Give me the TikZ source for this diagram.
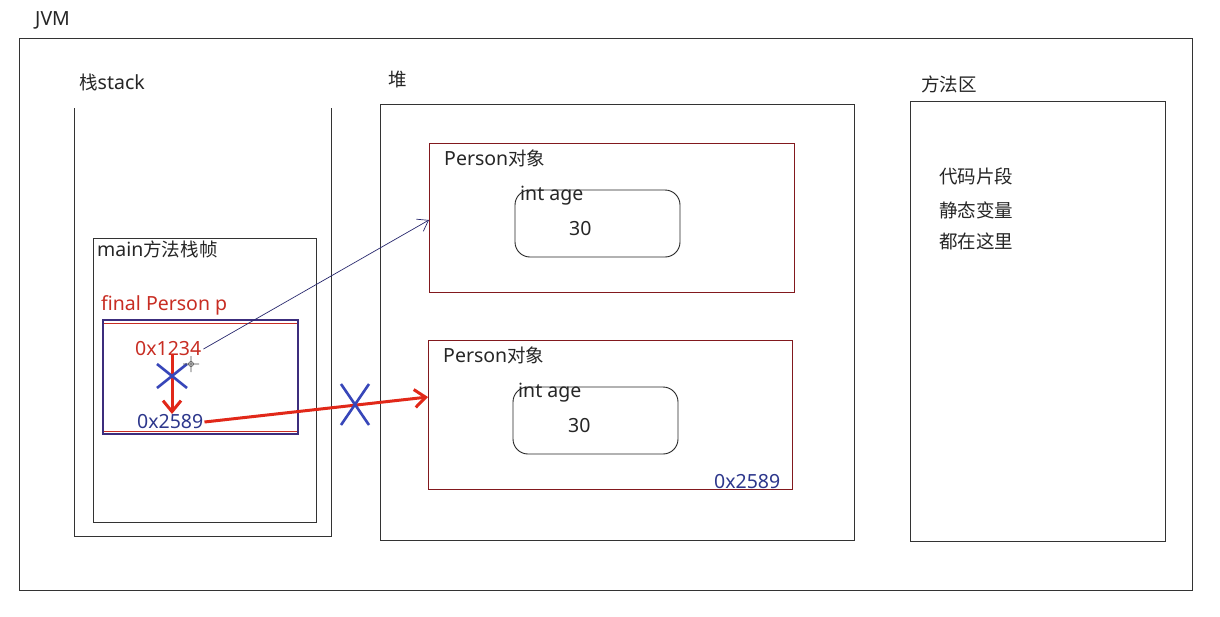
\documentclass[tikz,border=0pt]{standalone}
\usepackage{fontspec}
\setmainfont{Noto Sans}
\newfontfamily\cjk[Scale=0.95]{Noto Sans CJK SC}
\usetikzlibrary{arrows.meta}
\definecolor{txtred}{RGB}{200,45,35}
\definecolor{txtblue}{RGB}{45,55,140}
\definecolor{boxred}{RGB}{130,25,30}
\definecolor{arrred}{RGB}{225,40,25}
\definecolor{xblue}{RGB}{55,70,185}
\definecolor{pbox}{RGB}{60,45,125}
\definecolor{navy}{RGB}{40,40,110}
\begin{document}
\begin{tikzpicture}[x=1pt,y=-1pt,
  lbl/.style={anchor=west,inner sep=0pt,font=\fontsize{19.5}{21}\selectfont,text=black!85},
  frame/.style={draw=black!80,line width=0.9pt},
  objbox/.style={draw=boxred,line width=1.3pt},
  valbox/.style={draw=black!85,line width=0.9pt,rounded corners=15pt},
  redarrow/.style={draw=arrred,line width=3pt,-{Straight Barb[length=11pt,width=18pt,line width=3pt]}},
  xmark/.style={draw=xblue,line width=2.6pt}]
\useasboundingbox (0,0) rectangle (1220,616);
\fill[white] (0,0) rectangle (1220,616);
% boxes
\draw[frame] (19,38) rectangle (1192,590);
\draw[frame] (74,108) -- (74,536) -- (331,536) -- (331,108);
\draw[frame] (93,238) rectangle (316,522);
\draw[frame] (380,104) rectangle (854,540);
\draw[frame] (910,101) rectangle (1165,541);
\draw[draw=pbox,line width=1.2pt] (103,320) rectangle (298,434);
\draw[draw=txtred,line width=0.8pt] (104,323) -- (297,323) (104,431) -- (297,431);
\node[objbox,minimum width=365pt,minimum height=149pt,anchor=north west,inner sep=0pt] (obj1) at (429,143) {};
\node[objbox,minimum width=364pt,minimum height=149pt,anchor=north west,inner sep=0pt] (obj2) at (428,340) {};
\draw[valbox] (515,190) rectangle (680,257);
\draw[valbox] (513,387) rectangle (678,454);
% labels
\node[lbl] (jvm) at (35,20) {JVM};
\node[lbl] (stk) at (79,82) {{\cjk 栈}stack};
\node[lbl] (heap) at (388,80) {\cjk 堆};
\node[lbl] (meth) at (921,84) {\cjk 方法区};
\node[lbl] (mainf) at (97,249) {main{\cjk 方法栈帧}};
\node[lbl,text=txtred] (fp) at (101,305) {final Person p};
\node[lbl,text=txtred] (a1) at (135,349) {0x1234};
\node[lbl,text=txtblue] (a2) at (137,422) {0x2589};
\node[lbl] (po1) at (444,158) {Person{\cjk 对象}};
\node[lbl] (po2) at (443,355) {Person{\cjk 对象}};
\node[lbl] (ia1) at (520,196) {int age};
\node[lbl] (ia2) at (518,393) {int age};
\node[lbl] (v1) at (569,229) {30};
\node[lbl] (v2) at (568,426) {30};
\node[lbl,text=txtblue] (addr2) at (714,482) {0x2589};
\node[lbl] (m1) at (939,176) {\cjk 代码片段};
\node[lbl] (m2) at (939,210) {\cjk 静态变量};
\node[lbl] (m3) at (939,241) {\cjk 都在这里};
% connectors
\coordinate (t1) at (obj1.west |- 0,220);
\coordinate (t2) at (obj2.west |- 0,397);
\draw[navy,line width=0.7pt,-{Straight Barb[length=10pt,width=14pt,line width=0.7pt]}] (a1.east) ++(2,0) -- (t1);
\draw[redarrow] (a2.east) ++(1,0) -- (t2);
\coordinate (d1) at (172,354);
\coordinate (d2) at (172,414);
\draw[redarrow] (d1) -- (d2);
% crosses
\draw[xmark] (157,364) -- (187,388) (157,388) -- (187,364);
\draw[xmark] (341,384) -- (369,425) (341,425) -- (369,384);
% cursor
\draw[black!70,line width=0.6pt] (191,364) circle (2.5pt) (183,364) -- (199,364) (191,356) -- (191,372);
\end{tikzpicture}
\end{document}
